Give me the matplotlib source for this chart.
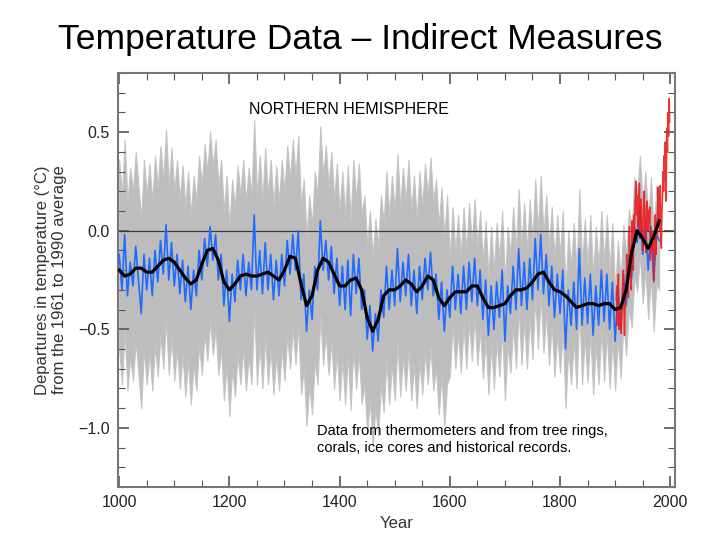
import numpy as np
import matplotlib
matplotlib.use('Agg')
import matplotlib.pyplot as plt
from matplotlib.ticker import MultipleLocator

plt.rcParams['font.family'] = ['Liberation Sans', 'DejaVu Sans']

TITLE = 'Temperature Data \u2013 Indirect Measures'

# annual proxy reconstruction, read every 5 years (1000-1980)
blue_years = list(range(1000, 1985, 5))
blue_vals = [
	-0.12, -0.30, -0.02, -0.33, -0.16, -0.28, -0.08, -0.25, -0.42, -0.12, -0.30, -0.14, -0.33, -0.10, -0.26, -0.05, -0.22, 0.03, -0.25, -0.06,
	-0.28, -0.12, -0.32, -0.15, -0.36, -0.18, -0.40, -0.20, -0.33, -0.10, -0.25, -0.04, -0.18, 0.02, -0.15, -0.02, -0.25, -0.12, -0.38, -0.20,
	-0.46, -0.22, -0.36, -0.15, -0.30, -0.12, -0.33, -0.16, -0.30, 0.08, -0.30, -0.10, -0.32, -0.06, -0.30, -0.12, -0.35, -0.15, -0.33, -0.12,
	-0.28, -0.05, -0.22, -0.02, -0.20, 0.00, -0.35, -0.22, -0.51, -0.30, -0.45, -0.18, -0.30, 0.05, -0.20, -0.05, -0.25, -0.08, -0.32, -0.14,
	-0.38, -0.18, -0.40, -0.15, -0.43, -0.12, -0.32, -0.14, -0.40, -0.30, -0.55, -0.38, -0.61, -0.42, -0.56, -0.30, -0.44, -0.18, -0.40, -0.20,
	-0.38, -0.09, -0.36, -0.16, -0.33, -0.12, -0.38, -0.20, -0.42, -0.18, -0.35, -0.14, -0.30, -0.11, -0.33, -0.22, -0.45, -0.26, -0.51, -0.30,
	-0.44, -0.18, -0.40, -0.22, -0.42, -0.18, -0.40, -0.16, -0.36, -0.14, -0.38, -0.20, -0.45, -0.25, -0.53, -0.28, -0.50, -0.26, -0.44, -0.20,
	-0.56, -0.28, -0.42, -0.18, -0.40, -0.09, -0.38, -0.16, -0.40, -0.14, -0.35, -0.04, -0.30, -0.02, -0.32, -0.12, -0.38, -0.18, -0.44, -0.22,
	-0.42, -0.20, -0.60, -0.30, -0.48, -0.26, -0.50, -0.09, -0.48, -0.24, -0.47, -0.22, -0.53, -0.28, -0.48, -0.20, -0.46, -0.22, -0.50, -0.26,
	-0.56, -0.30, -0.50, -0.22, -0.38, -0.14, -0.24, 0.02, -0.06, 0.13, -0.12, 0.05, -0.20, 0.02, -0.26, -0.02, -0.05]

# uncertainty half width of the reconstruction, by period start
err_start = [1000, 1600, 1900]
err_width = [0.48, 0.30, 0.25]

# 40 year smoothed reconstruction, every 10 years
smooth_years = list(range(1000, 1990, 10))
smooth_vals = [
	-0.20, -0.23, -0.22, -0.19, -0.19, -0.21, -0.21, -0.18, -0.15, -0.14,
	-0.16, -0.20, -0.24, -0.27, -0.25, -0.17, -0.10, -0.09, -0.15, -0.26,
	-0.30, -0.27, -0.23, -0.22, -0.23, -0.23, -0.22, -0.21, -0.23, -0.25,
	-0.20, -0.13, -0.14, -0.27, -0.38, -0.33, -0.20, -0.14, -0.16, -0.22,
	-0.28, -0.28, -0.25, -0.24, -0.30, -0.44, -0.51, -0.45, -0.33, -0.30,
	-0.30, -0.28, -0.25, -0.27, -0.31, -0.28, -0.23, -0.25, -0.34, -0.38,
	-0.34, -0.31, -0.31, -0.31, -0.28, -0.28, -0.34, -0.39, -0.39, -0.38,
	-0.37, -0.33, -0.30, -0.30, -0.29, -0.26, -0.22, -0.21, -0.26, -0.30,
	-0.31, -0.33, -0.36, -0.39, -0.38, -0.37, -0.37, -0.38, -0.37, -0.37,
	-0.40, -0.39, -0.30, -0.11, 0.00, -0.04, -0.09, -0.03, 0.05]

# thermometer record, annual
red_years = list(range(1902, 2000))
red_vals = [
	-0.35, -0.28, -0.48, -0.30, -0.22, -0.50, -0.40, -0.46, -0.38,
	-0.52, -0.44, -0.36, -0.25, -0.20, -0.38, -0.53, -0.40, -0.28, -0.30,
	-0.12, -0.30, -0.20, -0.34, -0.15, 0.02, -0.18, -0.10, -0.30, -0.04,
	0.05, -0.06, -0.20, 0.08, -0.02, 0.12, 0.22, 0.25, 0.08, 0.15,
	0.02, 0.18, 0.05, 0.24, -0.04, 0.10, 0.16, 0.00, 0.06, -0.10,
	0.10, 0.16, 0.20, 0.02, -0.05, -0.11, 0.12, 0.15, 0.08, 0.00,
	0.10, 0.06, 0.12, -0.15, -0.08, 0.00, -0.02, -0.10, -0.06, -0.25,
	-0.18, -0.05, 0.08, -0.12, 0.05, -0.02, 0.12, 0.22, 0.05, 0.16,
	0.00, 0.23, -0.05, -0.09, 0.10, 0.18, 0.30, 0.20, 0.38, 0.25,
	0.45, 0.15, 0.30, 0.52, 0.40, 0.60, 0.48, 0.67, 0.55]

blue_years = np.array(blue_years)
blue_vals = np.array(blue_vals)
err = np.array(err_width)[np.searchsorted(err_start, blue_years, side='right') - 1]

fig = plt.figure(figsize=(7.2, 5.4), dpi=100)
fig.text(0.5, 0.927, TITLE, ha='center', va='center', fontsize=25.5)
ax = fig.add_axes([0.164, 0.098, 0.773, 0.767])

ax.fill_between(blue_years, blue_vals - err, blue_vals + err, color='#bdbdbd', edgecolor='#c4c4c4', lw=0.8, zorder=1)
ax.axhline(0, color='#3a3a3a', lw=0.9, zorder=2)
ax.plot(blue_years, blue_vals, color='#1f6bff', lw=1.2, zorder=3)
ax.plot(red_years, red_vals, color='#ee1c1c', lw=1.1, alpha=0.9, zorder=4)
ax.plot(smooth_years, smooth_vals, color='black', lw=2.3, zorder=5)

ax.set_xlim(998, 2008)
ax.set_ylim(-1.30, 0.80)
ax.xaxis.set_major_locator(MultipleLocator(200))
ax.xaxis.set_minor_locator(MultipleLocator(50))
ax.yaxis.set_major_locator(MultipleLocator(0.5))
ax.yaxis.set_minor_locator(MultipleLocator(0.1))
ax.yaxis.set_major_formatter(plt.FuncFormatter(lambda v, p: ('%.1f' % v).replace('-', '\u2212')))
ax.tick_params(which='both', direction='in', top=True, right=True, color='#555555', labelsize=11.5, labelcolor='#222222')
ax.tick_params(which='major', length=8, width=1.2, pad=6)
ax.tick_params(which='minor', length=5, width=0.8)
for s in ax.spines.values():
	s.set_color('#777777')
	s.set_linewidth(1.5)

ax.set_xlabel('Year', fontsize=12, color='#333333', labelpad=4)
ax.set_ylabel('Departures in temperature (\u00b0C)\nfrom the 1961 to 1990 average', fontsize=12, color='#333333', labelpad=8)

ax.text(0.235, 0.912, 'NORTHERN HEMISPHERE', transform=ax.transAxes, fontsize=11.5, va='center')
ax.text(0.358, 0.115, 'Data from thermometers and from tree rings,\ncorals, ice cores and historical records.',
	transform=ax.transAxes, fontsize=10.5, va='center', linespacing=1.35)

plt.savefig('out.png', dpi=100)
plt.close()
